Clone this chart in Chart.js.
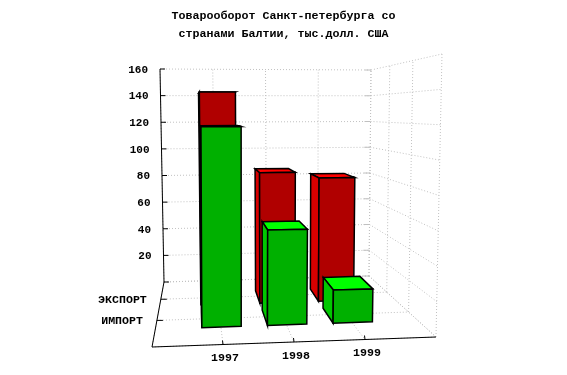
<!DOCTYPE html>
<html>
<head>
<meta charset="utf-8">
<title>Товарооборот</title>
<script src="https://cdn.jsdelivr.net/npm/chart.js@4"></script>
<style>
    html, body { margin: 0; padding: 0; background: #fff; }
    canvas { display: block; }
</style>
</head>
<body>
<canvas id="chart" width="567" height="375"></canvas>
<script>
const titleLines = ['Товарооборот Санкт-петербурга со', 'странами Балтии, тыс.долл. США'];
const years = [1997, 1998, 1999];
const seriesNames = ['ЭКСПОРТ', 'ИМПОРТ'];
const exportValues = [141, 87, 83];
const importValues = [119, 57, 20];
const frontColors = ['#b00000', '#00b000'];
const sideColors = ['#d80000', '#00c800'];
const topColors = ['#ff0000', '#00ff00'];

// corners of the box in screen space: back wall and front plane
const backWall = { bl: [164, 282], br: [369, 276], tl: [160, 69], tr: [371, 70] };
const frontPlane = { bl: [152, 347], br: [436, 337], tl: [150, 53], tr: [442, 54] };
const depthPerspective = 1.387;
const barHalfWidth = 0.3;    // in years
const barShift = 0.01;       // in years
const barDepthBack = 0.1;    // in box depth
const barDepthFront = 0.12;

function lerp(a, b, t) {
    return a + (b - a) * t;
}

function planePoint(plane, u, v) {
    return [0, 1].map(i => lerp(
        lerp(plane.bl[i], plane.br[i], u),
        lerp(plane.tl[i], plane.tr[i], u),
        v
    ));
}

function depthFactor(w) {
    return w / (w + depthPerspective * (1 - w));
}

// u, v and w are 0..1 across the box, back wall pixel comes from the scales
function project(u, v, w) {
    const back = planePoint(backWall, u, v);
    const front = planePoint(frontPlane, u, v);
    const f = depthFactor(w);
    return [lerp(back[0], front[0], f), lerp(back[1], front[1], f)];
}

function polyPath(ctx, pts) {
    ctx.beginPath();
    pts.forEach((p, i) => i ? ctx.lineTo(p[0], p[1]) : ctx.moveTo(p[0], p[1]));
    ctx.closePath();
}

function line(ctx, a, b) {
    ctx.beginPath();
    ctx.moveTo(a[0], a[1]);
    ctx.lineTo(b[0], b[1]);
    ctx.stroke();
}

function face(ctx, pts, color) {
    polyPath(ctx, pts);
    ctx.fillStyle = color;
    ctx.fill();
    ctx.stroke();
}

const box3d = {
    id: 'box3d',
    beforeDatasetsDraw(chart) {
        const ctx = chart.ctx;
        const xs = chart.scales.x;
        const ys = chart.scales.y;
        const area = chart.chartArea;
        const toU = px => (px - area.left) / (area.right - area.left);
        const toV = py => (area.bottom - py) / (area.bottom - area.top);
        const yVals = ys.ticks.map(t => t.value);
        const xVals = xs.ticks.map(t => t.value);
        const depthCount = seriesNames.length + 1;
        const depthLines = [];
        for (let i = 0; i <= depthCount; i++) depthLines.push(i / depthCount);

        ctx.save();

        // walls and floor
        ctx.strokeStyle = '#c0c0c0';
        ctx.lineWidth = 1;
        ctx.setLineDash([1, 2]);
        yVals.forEach(val => {
            const v = toV(ys.getPixelForValue(val));
            line(ctx, project(0, v, 0), project(1, v, 0));
            line(ctx, project(1, v, 0), project(1, v, 1));
        });
        xVals.forEach(val => {
            const u = toU(xs.getPixelForValue(val));
            line(ctx, project(u, 0, 0), project(u, 1, 0));
            line(ctx, project(u, 0, 0), project(u, 0, 1));
        });
        depthLines.forEach(w => {
            line(ctx, project(1, 0, w), project(1, 1, w));
            line(ctx, project(0, 0, w), project(1, 0, w));
        });

        // short solid marks where the back wall meets the right wall
        ctx.setLineDash([]);
        yVals.forEach(val => {
            const p = project(1, toV(ys.getPixelForValue(val)), 0);
            line(ctx, [p[0] - 6, p[1]], p);
        });

        // axes
        ctx.strokeStyle = '#000';
        ctx.lineWidth = 1;
        line(ctx, project(0, 0, 0), project(0, 1, 0));
        line(ctx, project(0, 0, 0), project(0, 0, 1));
        line(ctx, project(0, 0, 1), project(1, 0, 1));
        yVals.forEach(val => {
            const p = project(0, toV(ys.getPixelForValue(val)), 0);
            line(ctx, p, [p[0] + 5, p[1]]);
        });
        seriesNames.forEach((name, i) => {
            const p = project(0, 0, (i + 1) / depthCount);
            line(ctx, p, [p[0] + 6, p[1]]);
        });
        years.forEach(year => {
            const p = project(toU(xs.getPixelForValue(year)), 0, 1);
            line(ctx, p, [p[0] - 0.5, p[1] - 4]);
        });

        // bars, back series first
        ctx.lineWidth = 1.5;
        ctx.lineJoin = 'miter';
        chart.data.datasets.forEach((ds, di) => {
            const meta = chart.getDatasetMeta(di);
            const wc = (di + 1) / depthCount;
            const w0 = wc - barDepthBack;
            const w1 = wc + barDepthFront;
            meta.data.forEach((bar, i) => {
                const year = years[i] + barShift;
                const u0 = toU(xs.getPixelForValue(year - barHalfWidth));
                const u1 = toU(xs.getPixelForValue(year + barHalfWidth));
                const vTop = toV(bar.y);
                const vBase = toV(bar.base);
                face(ctx, [project(u0, vTop, w0), project(u1, vTop, w0), project(u1, vTop, w1), project(u0, vTop, w1)], topColors[di]);
                face(ctx, [project(u0, vBase, w0), project(u0, vTop, w0), project(u0, vTop, w1), project(u0, vBase, w1)], sideColors[di]);
                face(ctx, [project(u0, vBase, w1), project(u0, vTop, w1), project(u1, vTop, w1), project(u1, vBase, w1)], frontColors[di]);
            });
        });

        // axis labels
        ctx.fillStyle = '#000';
        ctx.textBaseline = 'middle';
        ctx.textAlign = 'right';
        ctx.font = 'bold 11px "Liberation Mono"';
        yVals.forEach(val => {
            if (val === 0) return;
            const p = project(0, toV(ys.getPixelForValue(val)), 0);
            ctx.fillText(String(val), p[0] - 12, p[1] + 1);
        });
        ctx.font = 'bold 11.6px "Liberation Mono"';
        seriesNames.forEach((name, i) => {
            const p = project(0, 0, (i + 1) / depthCount);
            ctx.fillText(name, p[0] - 14, p[1] + 1);
        });
        ctx.textAlign = 'center';
        years.forEach(year => {
            const p = project(toU(xs.getPixelForValue(year)), 0, 1);
            ctx.fillText(String(year), p[0] + 2, p[1] + 14);
        });

        ctx.restore();
        return false;
    }
};

const silentAxis = {
    display: true,
    ticks: { display: false },
    grid: { display: false },
    border: { display: false }
};

new Chart(document.getElementById('chart').getContext('2d'), {
    type: 'bar',
    data: {
        datasets: [
            { label: seriesNames[0], data: years.map((y, i) => ({ x: y, y: exportValues[i] })), backgroundColor: frontColors[0] },
            { label: seriesNames[1], data: years.map((y, i) => ({ x: y, y: importValues[i] })), backgroundColor: frontColors[1] }
        ]
    },
    options: {
        responsive: false,
        animation: false,
        grouped: false,
        scales: {
            x: { ...silentAxis, type: 'linear', offset: false, min: 1996, max: 2000, position: 'bottom',
                 afterBuildTicks(s) { s.ticks = [1996, 1997, 1998, 1999, 2000].map(value => ({ value })); },
                 afterFit(s) { s.height = 93; } },
            y: { ...silentAxis, type: 'linear', min: 0, max: 160, position: 'left',
                 ticks: { display: false, stepSize: 20 },
                 afterFit(s) { s.width = 164; } },
            spacer: { ...silentAxis, type: 'linear', position: 'right',
                 afterFit(s) { s.width = 198; } }
        },
        plugins: {
            legend: { display: false },
            tooltip: { enabled: false },
            title: {
                display: true,
                text: titleLines,
                color: '#000',
                font: { family: '"Liberation Mono"', size: 11.67, weight: 'bold', lineHeight: 1.55 },
                padding: { top: 7, bottom: 26 }
            }
        }
    },
    plugins: [box3d]
});
</script>
</body>
</html>
